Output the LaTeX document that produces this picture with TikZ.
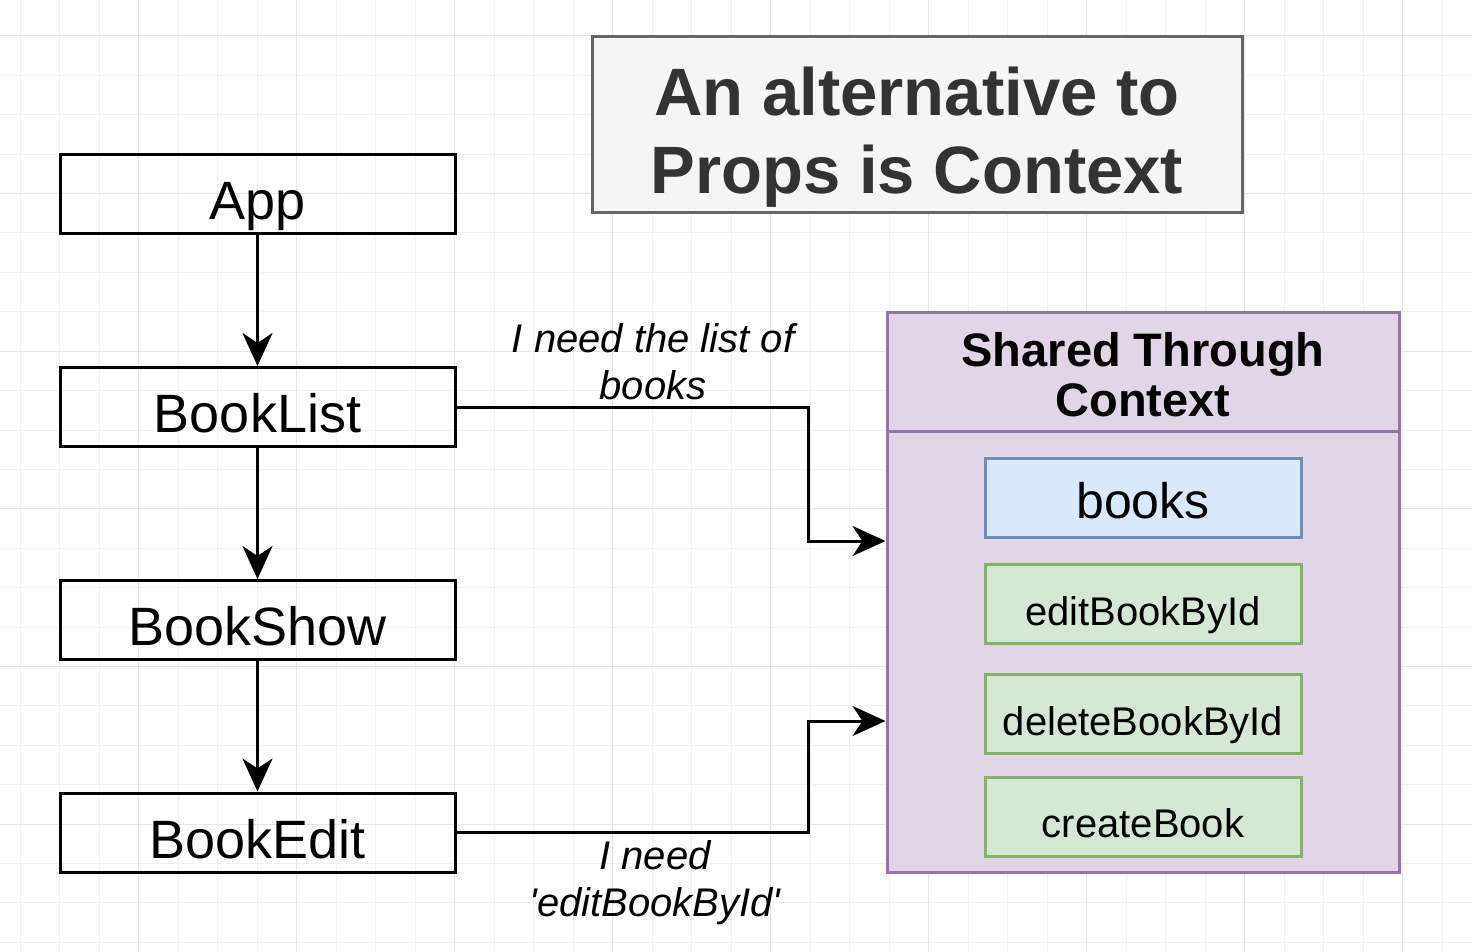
\documentclass[tikz,border=0pt]{standalone}
\usepackage{fontspec}
\setmainfont{Liberation Sans}
\usetikzlibrary{arrows.meta}

\definecolor{gridminor}{HTML}{F1F1F1}
\definecolor{gridmajor}{HTML}{E6E6E6}
\definecolor{titlefill}{HTML}{F5F5F5}
\definecolor{titledraw}{HTML}{666666}
\definecolor{titletext}{HTML}{333333}
\definecolor{ctxfill}{HTML}{E1D5E7}
\definecolor{ctxdraw}{HTML}{9673A6}
\definecolor{bluefill}{HTML}{DAE8FC}
\definecolor{bluedraw}{HTML}{6C8EBF}
\definecolor{greenfill}{HTML}{D5E8D4}
\definecolor{greendraw}{HTML}{82B366}

\tikzset{
  comp/.style={draw, line width=1.5pt, minimum width=197.5pt, minimum height=39.5pt,
    inner sep=0pt, text height=25.5pt, text depth=0pt, font=\fontsize{27}{32}\selectfont},
  item/.style={draw=greendraw, fill=greenfill, line width=1.5pt, minimum width=158pt,
    minimum height=39.5pt, inner sep=0pt, text height=21pt, text depth=0pt,
    font=\fontsize{20}{24}\selectfont},
  conn/.style={line width=1.5pt, -{Stealth[length=16.5pt, width=15pt, inset=5pt]}},
  note/.style={align=center, font=\fontsize{20}{23.5}\selectfont\itshape}
}

\begin{document}
\begin{tikzpicture}[x=0.5pt, y=-0.5pt]

  \useasboundingbox (0,0) rectangle (1472,952);

  %% grid
  \foreach \i in {0,...,36} \draw[gridminor, line width=0.5pt] ({20+39.5*\i},0) -- ++(0,952);
  \foreach \j in {0,...,23} \draw[gridminor, line width=0.5pt] (0,{36+39.4*\j}) -- ++(1472,0);
  \foreach \i in {3,7,...,35} \draw[gridmajor, line width=0.5pt] ({20+39.5*\i},0) -- ++(0,952);
  \foreach \j in {0,4,...,20} \draw[gridmajor, line width=0.5pt] (0,{36+39.4*\j}) -- ++(1472,0);

  %% title
  \draw[draw=titledraw, fill=titlefill, line width=1.5pt] (592,37) rectangle (1242,213);
  \node[align=center, text=titletext, font=\fontsize{33.5}{39}\selectfont\bfseries] (title) at (917,137)
    {An alternative to\\Props is Context};

  %% component tree
  \node[comp] (App) at (257.5,194.5) {App};
  \node[comp] (BookList) at (257.5,407) {BookList};
  \node[comp] (BookShow) at (257.5,620) {BookShow};
  \node[comp] (BookEdit) at (257.5,832.5) {BookEdit};

  \draw[conn] (App) -- (BookList);
  \draw[conn] (BookList) -- (BookShow);
  \draw[conn] (BookShow) -- (BookEdit);

  %% context
  \node[draw=ctxdraw, fill=ctxfill, line width=1.5pt, minimum width=256pt, minimum height=280pt] (ctx) at (1143,592) {};
  \draw[ctxdraw, line width=1.5pt] (ctx.west |- 0,431) coordinate (hdrL) -- (ctx.east |- 0,431) coordinate (hdrR);
  \node[align=center, font=\fontsize{23.5}{25}\selectfont\bfseries] (ctxTitle) at (1143,375) {Shared Through\\Context};

  \node[item, draw=bluedraw, fill=bluefill, text height=20.5pt, font=\fontsize{25}{30}\selectfont] (books) at (1143,497.5) {books};
  \node[item] (editBook) at (1143,604) {editBookById};
  \node[item] (deleteBook) at (1143,714) {deleteBookById};
  \node[item] (createBook) at (1143,816.5) {createBook};

  \coordinate (inA) at (ctx.west |- 0,541);
  \coordinate (inB) at (ctx.west |- 0,721);

  \draw[conn] (BookList.east) -| (808,541) -- (inA); %% BookList->ctx
  \draw[conn] (BookEdit.east) -| (808,721) -- (inB); %% BookEdit->ctx

  \node[note] (needBooks) at (653,362) {I need the list of\\books};
  \node[note] (needEdit) at (655,883) {I need\\\textquotesingle editBookById\textquotesingle};

\end{tikzpicture}
\end{document}
